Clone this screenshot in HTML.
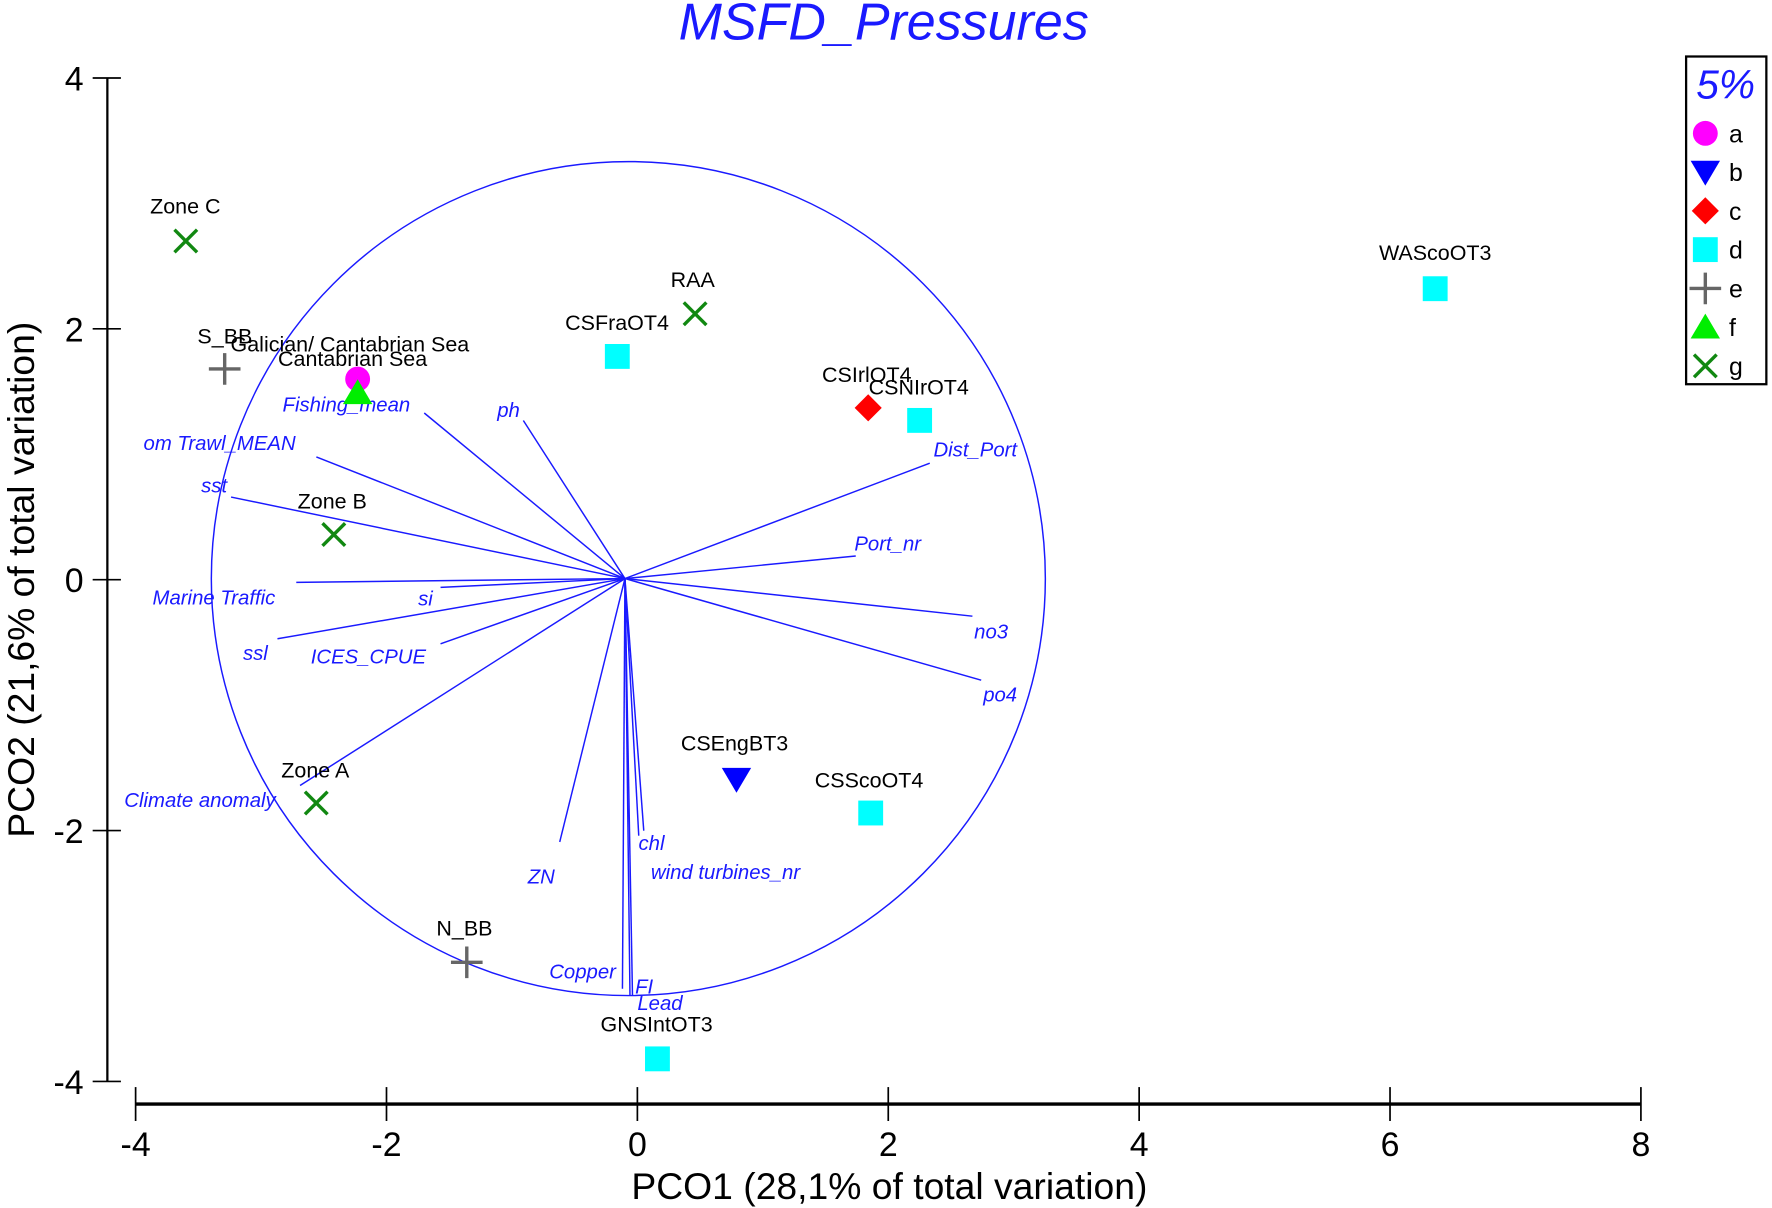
<!DOCTYPE html>
<html><head><meta charset="utf-8"><style>
html,body{margin:0;padding:0;background:#fff}
svg{display:block}
text{font-family:"Liberation Sans",Arial,sans-serif}
</style></head><body>
<svg id="chart" width="1772" height="1208" viewBox="0 0 1568 1069" preserveAspectRatio="none" xmlns="http://www.w3.org/2000/svg">
<text x="782" y="35" text-anchor="middle" font-size="46" font-style="italic" fill="#1a1aff">MSFD_Pressures</text>
<text x="787" y="1061" text-anchor="middle" font-size="33" fill="#000">PCO1 (28,1% of total variation)</text>
<text transform="translate(30,513) rotate(-90)" text-anchor="middle" font-size="33" fill="#000">PCO2 (21,6% of total variation)</text>
<g id="axes"></g>
<g id="vectors"></g>
<g id="points"></g>
<g>
<rect x="1492" y="50" width="71" height="290" fill="#fff" stroke="#000" stroke-width="2"/>
<text x="1527" y="87" text-anchor="middle" font-size="36" font-style="italic" fill="#1a1aff">5%</text>
<g id="legend-items"></g>
</g>
</svg>
<script>
const xTicks=[-4,-2,0,2,4,6,8];
const yTicks=[-4,-2,0,2,4];
const ptNames=["Zone C","S_BB","Galician/ Cantabrian Sea","Cantabrian Sea","RAA","CSFraOT4","CSIrlOT4","CSNIrOT4","WAScoOT3","Zone B","Zone A","CSEngBT3","CSScoOT4","N_BB","GNSIntOT3"];
const ptX=[-3.60,-3.29,-2.23,-2.23,0.46,-0.16,1.84,2.25,6.36,-2.42,-2.56,0.79,1.86,-1.36,0.16];
const ptY=[2.70,1.68,1.60,1.49,2.12,1.78,1.37,1.27,2.32,0.36,-1.78,-1.59,-1.86,-3.05,-3.82];
const ptGroup=["g","e","a","f","g","d","c","d","d","g","g","b","d","e","d"];
const vecNames=["Fishing_mean","ph","om Trawl_MEAN","sst","Marine Traffic","si","ssl","ICES_CPUE","Climate anomaly","ZN","Copper","FI","Lead","chl","wind turbines_nr","Dist_Port","Port_nr","no3","po4"];
const vecX=[-1.60,-0.81,-2.46,-3.14,-2.62,-1.47,-2.77,-1.47,-2.59,-0.52,-0.02,0.04,0.06,0.15,0.11,2.43,1.84,2.77,2.84];
const vecY=[1.32,1.26,0.97,0.65,-0.03,-0.07,-0.48,-0.52,-1.65,-2.10,-3.27,-3.32,-3.32,-2.01,-2.05,0.92,0.18,-0.30,-0.81];
const legendGroups=["a","b","c","d","e","f","g"];
// layout (not data)
const vecLabelPos=[[250,364],[440,369],[127,398],[178,436],[135,535],[370,536],[215,584],[275,587],[110,714],[467,782],[486,866],[562,879],[564,894],[565,752],[576,778],[826,404],[756,487],[862,565],[870,621]];
const ptLabelPos=[[164,189,"middle"],[199,304,"middle"],[204,311,"start"],[246,324,"start"],[613,254,"middle"],[546,292,"middle"],[767,338,"middle"],[813,349,"middle"],[1270,230,"middle"],[294,450,"middle"],[279,688,"middle"],[650,664,"middle"],[769,697,"middle"],[411,828,"middle"],[581,913,"middle"]];
const NS="http://www.w3.org/2000/svg";
const X=v=>564+v*111, Y=v=>513-v*111;
const OX=553,OY=512,VS=111;
function mk(tag,attrs,parent){const e=document.createElementNS(NS,tag);for(const k in attrs)e.setAttribute(k,attrs[k]);parent.appendChild(e);return e;}
const axes=document.getElementById('axes');
let l=mk('line',{x1:95,y1:69,x2:95,y2:957,stroke:'#000','stroke-width':2},axes);


l=mk('line',{x1:120,y1:977,x2:1452,y2:977,stroke:'#000','stroke-width':3},axes);


yTicks.forEach(t=>{
 const tk=mk('line',{x1:82,y1:Y(t),x2:107,y2:Y(t),stroke:'#000','stroke-width':1.5},axes);
 
 
 const tx=mk('text',{x:74,y:Y(t)+11,'text-anchor':'end','font-size':30},axes);
 tx.textContent=t;
 
 
});
xTicks.forEach(t=>{
 const tk=mk('line',{x1:X(t),y1:962,x2:X(t),y2:992,stroke:'#000','stroke-width':1.5},axes);
 
 
 const tx=mk('text',{x:X(t),y:1023,'text-anchor':'middle','font-size':30},axes);
 tx.textContent=t;
 
 
});
const vg=document.getElementById('vectors');
const c=mk('circle',{cx:556,cy:512,r:369,fill:'none',stroke:'#1a1aff','stroke-width':1.3},vg);


vecNames.forEach((n,i)=>{
 const ln=mk('line',{x1:OX,y1:OY,x2:OX+vecX[i]*VS,y2:OY-vecY[i]*VS,stroke:'#1a1aff','stroke-width':1.3},vg);
 
 
 const p=vecLabelPos[i];
 const tx=mk('text',{x:p[0],y:p[1],'font-size':18,'font-style':'italic',fill:'#1a1aff'},vg);
 tx.textContent=n;
 
 
});
function marker(g,x,y,parent){
 if(g==='a')return mk('circle',{cx:x,cy:y,r:11,fill:'#ff00ff'},parent);
 if(g==='b')return mk('polygon',{points:`${x-13},${y-10} ${x+13},${y-10} ${x},${y+12}`,fill:'#0000ff'},parent);
 if(g==='c')return mk('polygon',{points:`${x},${y-12} ${x+12},${y} ${x},${y+12} ${x-12},${y}`,fill:'#ff0000'},parent);
 if(g==='d')return mk('rect',{x:x-11,y:y-11,width:22,height:22,fill:'#00ffff'},parent);
 if(g==='e')return mk('path',{d:`M${x-14},${y}H${x+14}M${x},${y-14}V${y+14}`,stroke:'#666','stroke-width':3},parent);
 if(g==='f')return mk('polygon',{points:`${x-13},${y+10} ${x+13},${y+10} ${x},${y-12}`,fill:'#00ee00'},parent);
 return mk('path',{d:`M${x-10},${y-10}L${x+10},${y+10}M${x+10},${y-10}L${x-10},${y+10}`,stroke:'#118811','stroke-width':3},parent);
}
const pg=document.getElementById('points');
ptNames.forEach((n,i)=>{
 const m=marker(ptGroup[i],X(ptX[i]),Y(ptY[i]),pg);
 
 
 const p=ptLabelPos[i];
 const tx=mk('text',{x:p[0],y:p[1],'text-anchor':p[2],'font-size':19,fill:'#000'},pg);
 tx.textContent=n;
 
 
});
const lg=document.getElementById('legend-items');
legendGroups.forEach((g,i)=>{
 const y=118+i*34.3;
 const m=marker(g,1509,y,lg);
 
 
 const tx=mk('text',{x:1530,y:y+8,'font-size':22,fill:'#000'},lg);
 tx.textContent=g;
 
 
});
</script>
</body></html>
